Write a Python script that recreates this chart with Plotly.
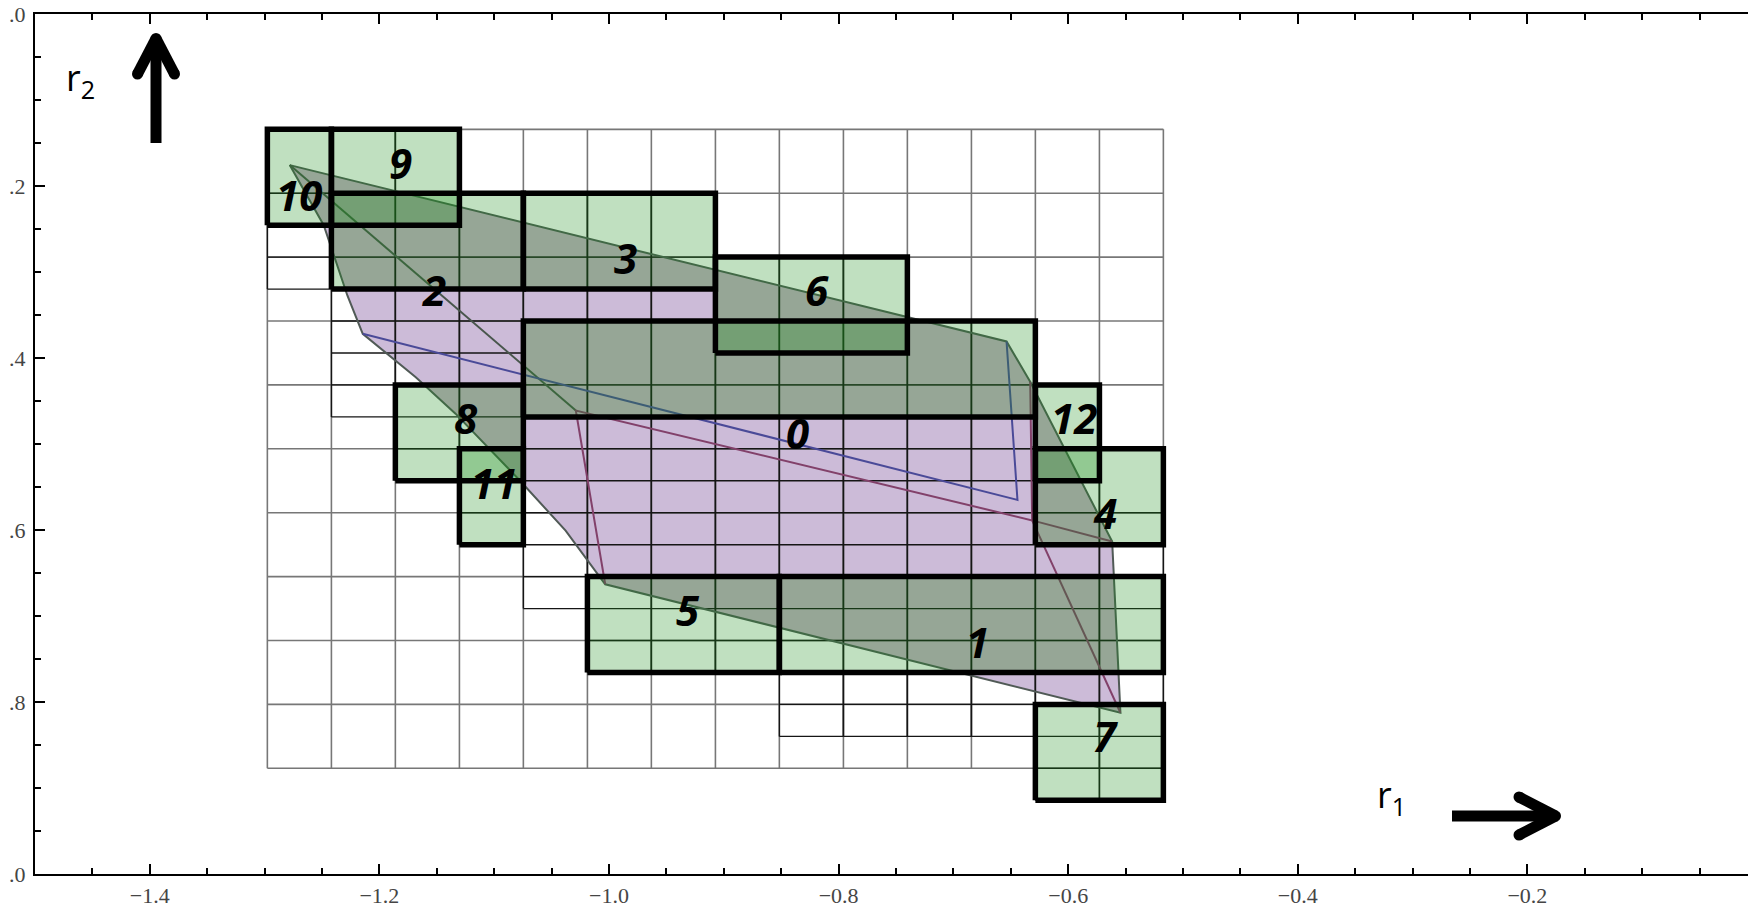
import plotly.graph_objects as go

# ---------------------------------------------------------------------------
# Data
# ---------------------------------------------------------------------------
# Column edges of the cell grid (r1 direction)
GRID_X = [-1.2976, -1.2418, -1.1861, -1.1303, -1.0746, -1.0188, -0.9631, -0.9073,
          -0.8516, -0.7958, -0.7401, -0.6843, -0.6286, -0.5728, -0.5171]
# Row edges of the cell grid at half-cell steps (r2 direction); even index = full row
GRID_Y = [-0.1341, -0.1713, -0.2084, -0.2456, -0.2827, -0.3199, -0.3570, -0.3942,
          -0.4313, -0.4685, -0.5056, -0.5428, -0.5799, -0.6171, -0.6542, -0.6914,
          -0.7285, -0.7657, -0.8028, -0.8400, -0.8771, -0.9143]

# Refined (half-row) part of the grid, per column: black range and first half-row line
COL_BLACK_TOP = [0, 0, 0, 2, 2, 2, 2, 4, 4, 4, 6, 6, 8, 10]
COL_BLACK_BOT = [5, 9, 11, 13, 15, 17, 17, 17, 19, 19, 19, 19, 21, 21]
COL_HALF_TOP = [3, 5, 5, 5, 9, 9, 9, 9, 9, 9, 9, 9, 13, 13]

# Boxes: column index range and half-row index range
BOX_NAMES = ["0", "1", "2", "3", "4", "5", "6", "7", "8", "9", "10", "11", "12"]
BOX_C0 = [4, 8, 1, 4, 12, 5, 7, 12, 2, 1, 0, 3, 12]
BOX_C1 = [12, 14, 4, 7, 14, 8, 10, 14, 4, 3, 1, 4, 13]
BOX_H0 = [6, 14, 2, 2, 10, 14, 4, 18, 8, 0, 0, 10, 8]
BOX_H1 = [9, 17, 5, 5, 13, 17, 7, 21, 11, 3, 3, 13, 11]
LABEL_X = [-0.8355, -0.6788, -1.1526, -0.9854, -0.5681, -0.9314, -0.8190,
           -0.5671, -1.1247, -1.1814, -1.2702, -1.1003, -0.5951]
LABEL_Y = [-0.4872, -0.7302, -0.3209, -0.2826, -0.5802, -0.6919, -0.3209,
           -0.8395, -0.4686, -0.1721, -0.2093, -0.5442, -0.4686]

# Reachable region (outer boundary)
REGION_X = [-1.2781, -0.6537, -0.6331, -0.5617, -0.5545, -1.0033, -1.0378,
            -1.0785, -1.1337, -1.1683, -1.2145, -1.2279, -1.2485]
REGION_Y = [-0.1757, -0.3808, -0.4276, -0.6134, -0.8125, -0.6631, -0.6007,
            -0.5413, -0.4647, -0.4224, -0.3719, -0.3273, -0.2456]
# Inner edges
DIAG_X = [-1.2781, -1.0289]
DIAG_Y = [-0.1757, -0.4610]
BLUE_X = [-1.2145, -0.6442, -0.6537]
BLUE_Y = [-0.3719, -0.5650, -0.3808]
RED_X = [-1.0033, -1.0289, -0.6314, -0.6331, None, -0.6314, -0.5617, None, -0.6314, -0.5545]
RED_Y = [-0.6631, -0.4610, -0.5888, -0.4276, None, -0.5888, -0.6134, None, -0.5888, -0.8125]

# Axis ticks
X_TICKS = [-1.4, -1.2, -1.0, -0.8, -0.6, -0.4, -0.2]
X_TICKTEXT = ["\u22121.4", "\u22121.2", "\u22121.0", "\u22120.8", "\u22120.6", "\u22120.4", "\u22120.2"]
Y_TICKS = [0.0, -0.2, -0.4, -0.6, -0.8, -1.0]
Y_TICKTEXT = [".0", ".2", ".4", ".6", ".8", ".0"]

# ---------------------------------------------------------------------------
# Styling
# ---------------------------------------------------------------------------
LAVENDER = "rgb(204,187,216)"
LAVENDER_UNDER_BOX = "rgb(197,175,197)"
BOX_TINT = "rgba(30,144,30,0.28)"
GRID_GRAY = "#777777"
GRID_BLACK = "#151515"

X_RANGE = [-1.5, -0.00784]
Y_RANGE = [-1.0, 0.0]
ML, MT = 35, 14
PX_PER_X, PX_PER_Y = 1148.0, 860.0


def px_to_data(px, py):
    return -1.5 + (px - ML) / PX_PER_X, -(py - MT) / PX_PER_Y


def clip_rect(poly, x0, x1, y0, y1):
    """Sutherland-Hodgman clip of a polygon against an axis-aligned rectangle."""
    def clip(pts, inside, inter):
        out = []
        for i in range(len(pts)):
            cur, prev = pts[i], pts[i - 1]
            if inside(cur):
                if not inside(prev):
                    out.append(inter(prev, cur))
                out.append(cur)
            elif inside(prev):
                out.append(inter(prev, cur))
        return out

    def at_x(p, q, xv):
        t = (xv - p[0]) / (q[0] - p[0])
        return (xv, p[1] + t * (q[1] - p[1]))

    def at_y(p, q, yv):
        t = (yv - p[1]) / (q[1] - p[1])
        return (p[0] + t * (q[0] - p[0]), yv)

    pts = list(poly)
    for inside, inter in [
        (lambda p: p[0] >= x0, lambda p, q: at_x(p, q, x0)),
        (lambda p: p[0] <= x1, lambda p, q: at_x(p, q, x1)),
        (lambda p: p[1] >= y0, lambda p, q: at_y(p, q, y0)),
        (lambda p: p[1] <= y1, lambda p, q: at_y(p, q, y1)),
    ]:
        pts = clip(pts, inside, inter)
        if not pts:
            break
    return pts


fig = go.Figure()

# Region fill
fig.add_trace(go.Scatter(x=REGION_X + [REGION_X[0]], y=REGION_Y + [REGION_Y[0]],
                         mode="lines", fill="toself", fillcolor=LAVENDER,
                         line=dict(width=0), hoverinfo="skip"))

region = list(zip(REGION_X, REGION_Y))
boxes = []
for c0, c1, h0, h1 in zip(BOX_C0, BOX_C1, BOX_H0, BOX_H1):
    bx0, bx1 = GRID_X[c0], GRID_X[c1]
    by0, by1 = GRID_Y[h1], GRID_Y[h0]
    boxes.append((bx0, bx1, by0, by1))
    part = clip_rect(region, bx0, bx1, by0, by1)
    if len(part) >= 3:
        fig.add_trace(go.Scatter(x=[p[0] for p in part] + [part[0][0]],
                                 y=[p[1] for p in part] + [part[0][1]],
                                 mode="lines", fill="toself", fillcolor=LAVENDER_UNDER_BOX,
                                 line=dict(width=0), hoverinfo="skip"))

# Coarse grid (gray)
gx, gy = [], []
full_rows = GRID_Y[0:21:2]
for x in GRID_X:
    gx += [x, x, None]
    gy += [full_rows[0], full_rows[-1], None]
for y in full_rows:
    gx += [GRID_X[0], GRID_X[-1], None]
    gy += [y, y, None]
fig.add_trace(go.Scatter(x=gx, y=gy, mode="lines", line=dict(color=GRID_GRAY, width=1.6),
                         hoverinfo="skip"))

# Refined grid (black)
bx, by = [], []
for col, (top, bot, half) in enumerate(zip(COL_BLACK_TOP, COL_BLACK_BOT, COL_HALF_TOP)):
    xl, xr = GRID_X[col], GRID_X[col + 1]
    for xv in (xl, xr):
        bx += [xv, xv, None]
        by += [GRID_Y[top], GRID_Y[bot], None]
    for h in range(top, bot + 1):
        if h % 2 == 0 or h >= half:
            bx += [xl, xr, None]
            by += [GRID_Y[h], GRID_Y[h], None]
fig.add_trace(go.Scatter(x=bx, y=by, mode="lines", line=dict(color=GRID_BLACK, width=1.4),
                         hoverinfo="skip"))

# Region edges
fig.add_trace(go.Scatter(x=REGION_X + [REGION_X[0]], y=REGION_Y + [REGION_Y[0]], mode="lines",
                         line=dict(color="#505a56", width=2), hoverinfo="skip"))
fig.add_trace(go.Scatter(x=DIAG_X, y=DIAG_Y, mode="lines",
                         line=dict(color="#48564c", width=2), hoverinfo="skip"))
fig.add_trace(go.Scatter(x=BLUE_X, y=BLUE_Y, mode="lines",
                         line=dict(color="#4a4a98", width=2), hoverinfo="skip"))
fig.add_trace(go.Scatter(x=RED_X, y=RED_Y, mode="lines",
                         line=dict(color="#82416a", width=2), hoverinfo="skip"))

# Box tint (one trace per box so overlaps darken)
for bx0, bx1, by0, by1 in boxes:
    fig.add_trace(go.Scatter(x=[bx0, bx1, bx1, bx0, bx0], y=[by0, by0, by1, by1, by0],
                             mode="lines", fill="toself", fillcolor=BOX_TINT,
                             line=dict(width=0), hoverinfo="skip"))

# Box borders
ox, oy = [], []
for bx0, bx1, by0, by1 in boxes:
    ox += [bx0, bx1, bx1, bx0, bx0, None]
    oy += [by0, by0, by1, by1, by0, None]
fig.add_trace(go.Scatter(x=ox, y=oy, mode="lines", line=dict(color="black", width=5.5),
                         hoverinfo="skip"))

# Box labels
for name, lx, ly in zip(BOX_NAMES, LABEL_X, LABEL_Y):
    fig.add_annotation(x=lx, y=ly, text=name, showarrow=False, xanchor="center", yanchor="middle",
                       font=dict(family="Open Sans", size=42, color="black", style="italic",
                                 weight=700))

# Direction arrows
ARROW_W = 11


def seg(p, q):
    (x0, y0), (x1, y1) = px_to_data(*p), px_to_data(*q)
    fig.add_shape(type="line", x0=x0, y0=y0, x1=x1, y1=y1, layer="above",
                  line=dict(color="black", width=ARROW_W))


def dot(p):
    x, y = px_to_data(*p)
    r = ARROW_W / 2
    fig.add_shape(type="circle", xsizemode="pixel", ysizemode="pixel", xanchor=x, yanchor=y,
                  x0=-r, x1=r, y0=-r, y1=r, layer="above", fillcolor="black",
                  line=dict(width=0))


# up arrow (r2)
seg((156, 143), (156, 40))
for end in [(137.5, 74), (174.5, 74)]:
    seg((156, 38.5), end)
    dot(end)
dot((156, 38.5))
# right arrow (r1)
seg((1452, 816), (1553, 816))
for end in [(1519, 797), (1519, 835)]:
    seg((1555.5, 816), end)
    dot(end)
dot((1555.5, 816))

lx, ly = px_to_data(80, 79)
fig.add_annotation(x=lx, y=ly, text="r<sub>2</sub>", showarrow=False, xanchor="center",
                   yanchor="middle", font=dict(family="Open Sans", size=36, color="black"))
lx, ly = px_to_data(1391, 796)
fig.add_annotation(x=lx, y=ly, text="r<sub>1</sub>", showarrow=False, xanchor="center",
                   yanchor="middle", font=dict(family="Open Sans", size=36, color="black"))

tick_font = dict(family="Liberation Serif", size=22, color="#454545")
fig.update_xaxes(range=X_RANGE, showgrid=False, zeroline=False, showline=True,
                 linecolor="black", linewidth=2, mirror="ticks", ticks="inside", ticklen=10,
                 tickwidth=1.5, tickcolor="black", tickvals=X_TICKS, ticktext=X_TICKTEXT,
                 tickfont=tick_font, ticklabelstandoff=1,
                 minor=dict(ticks="inside", ticklen=6, dtick=0.05, tick0=0,
                            tickcolor="black", tickwidth=1.5))
fig.update_yaxes(range=Y_RANGE, showgrid=False, zeroline=False, showline=True,
                 linecolor="black", linewidth=2, mirror=False, ticks="inside", ticklen=10,
                 tickwidth=1.5, tickcolor="black", tickvals=Y_TICKS, ticktext=Y_TICKTEXT,
                 tickfont=tick_font, ticklabelstandoff=3,
                 minor=dict(ticks="inside", ticklen=6, dtick=0.05, tick0=0,
                            tickcolor="black", tickwidth=1.5))
fig.update_layout(width=1748, height=907, margin=dict(l=ML, r=0, t=MT, b=33, autoexpand=False),
                  plot_bgcolor="white", paper_bgcolor="white", showlegend=False)

fig.write_html("out.html")
